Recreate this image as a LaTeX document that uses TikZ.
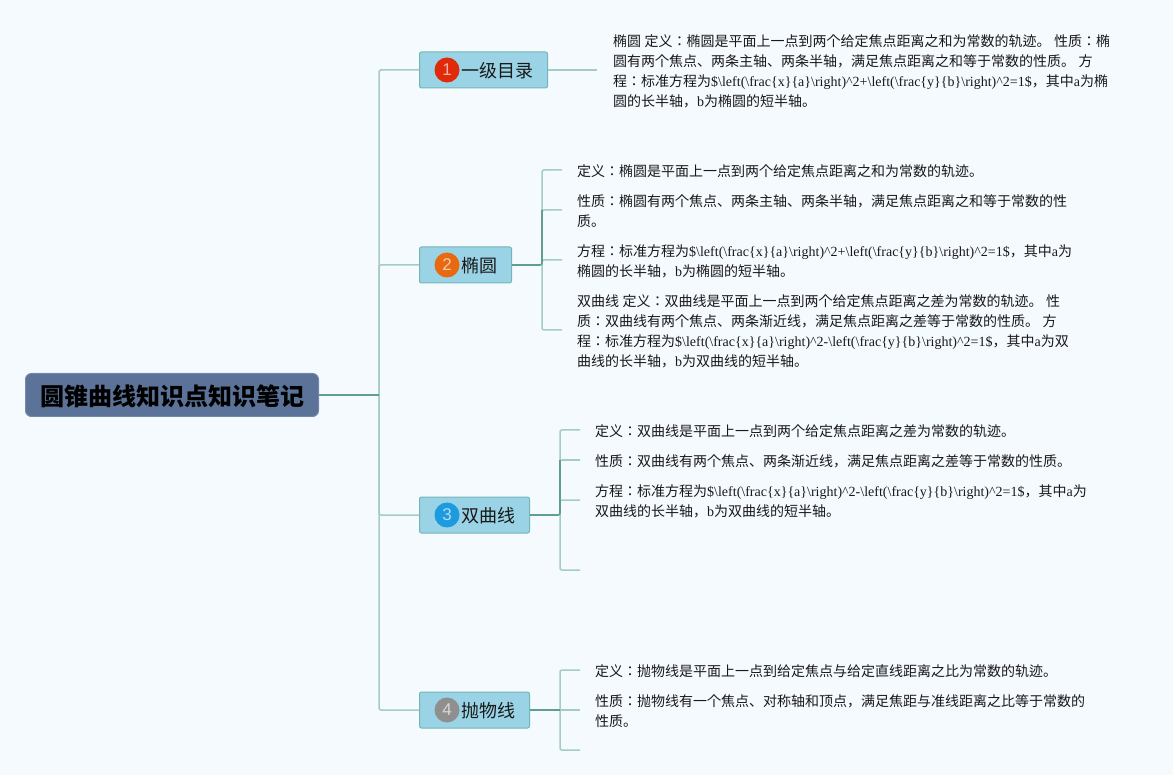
\documentclass[tikz,border=0pt]{standalone}
\usepackage{fontspec}
\setmainfont{Noto Sans CJK JP}
\newfontfamily\latfont{Liberation Serif}
\newfontfamily\digitfont{Liberation Sans}
\usepackage{xcolor}
\definecolor{pagebg}{HTML}{F5FAFF}
\definecolor{rootblue}{HTML}{5B7399}
\definecolor{topicblue}{HTML}{9AD3E6}
\definecolor{topicedge}{HTML}{74B6B4}
\definecolor{linelight}{HTML}{A3CCC5}
\definecolor{linedark}{HTML}{5F9E90}
\definecolor{badgered}{HTML}{E02A0A}
\definecolor{badgeorange}{HTML}{E8690F}
\definecolor{badgeblue}{HTML}{1E9BE0}
\definecolor{badgegrey}{HTML}{8F8F8F}
\newcommand{\lat}[1]{{\latfont #1}}
\newcommand{\frcx}{\textbackslash left(\textbackslash frac\{x\}\{a\}\textbackslash right)\textasciicircum 2}
\newcommand{\frcy}{\textbackslash left(\textbackslash frac\{y\}\{b\}\textbackslash right)\textasciicircum 2=1\$}
\newcommand{\eqplus}{\lat{\$\frcx+\frcy}}
\newcommand{\eqminus}{\lat{\$\frcx-\frcy}}

\begin{document}
\begin{tikzpicture}[x=1pt,y=-1pt,
  rootbox/.style={draw=rootblue!85, line width=1pt, fill=rootblue, rounded corners=6pt,
    minimum width=293pt, minimum height=43pt, inner sep=0pt,
    font=\fontsize{24}{28}\selectfont\bfseries, text=black},
  topicbox/.style={draw=topicedge, line width=1pt, fill=topicblue, rounded corners=2pt,
    minimum height=36pt, inner sep=0pt, anchor=west},
  badge/.style={circle, minimum size=25pt, inner sep=0pt, text=white, text opacity=0.65,
    font=\fontsize{17}{17}\selectfont\digitfont},
  topiclabel/.style={anchor=west, inner sep=0pt, text=black!90,
    font=\fontsize{18}{22}\selectfont},
  leaf/.style={anchor=west, align=left, inner ysep=0pt, inner xsep=15pt, text=black!90,
    font=\fontsize{14}{20}\selectfont},
  thinline/.style={draw=linelight, line width=1.5pt, rounded corners=2pt},
  mainline/.style={draw=linedark, line width=1.6pt, rounded corners=2pt},
  up/.style={yshift=1pt}
]
  \fill[pagebg] (0,0) rectangle (1173,775);

  % Root
  \node[rootbox, text depth=0pt] (root) at (172,395) {\hspace{1pt}圆锥曲线知识点知识笔记};
  \coordinate (trunk) at (379,395);

  % Topic boxes
  \node[topicbox, minimum width=128pt] (t1) at (419,70) {};
  \node[badge, fill=badgered] (b1) at (447,70) {1};
  \node[topiclabel] (n1) at (461,71) {一级目录};

  \node[topicbox, minimum width=92pt] (t2) at (419,265) {};
  \node[badge, fill=badgeorange] (b2) at (447,265) {2};
  \node[topiclabel] (n2) at (461,266) {椭圆};

  \node[topicbox, minimum width=110pt] (t3) at (419,515) {};
  \node[badge, fill=badgeblue] (b3) at (447,515) {3};
  \node[topiclabel] (n3) at (461,516) {双曲线};

  \node[topicbox, minimum width=110pt] (t4) at (419,710) {};
  \node[badge, fill=badgegrey] (b4) at (447,710) {4};
  \node[topiclabel] (n4) at (461,711) {抛物线};

  % Leaves of topic 1
  \node[leaf, inner xsep=16pt] (l11) at (597,71) {椭圆\lat{ }定义：椭圆是平面上一点到两个给定焦点距离之和为常数的轨迹。\lat{ }性质：椭\\
    圆有两个焦点、两条主轴、两条半轴，满足焦点距离之和等于常数的性质。\lat{ }方\\
    程：标准方程为\eqplus，其中\lat{a}为椭\\
    圆的长半轴，\lat{b}为椭圆的短半轴。};

  % Leaves of topic 2
  \node[leaf] (l21) at (562,171) {定义：椭圆是平面上一点到两个给定焦点距离之和为常数的轨迹。};
  \node[leaf] (l22) at (562,211) {性质：椭圆有两个焦点、两条主轴、两条半轴，满足焦点距离之和等于常数的性\\质。};
  \node[leaf] (l23) at (562,261) {方程：标准方程为\eqplus，其中\lat{a}为\\
    椭圆的长半轴，\lat{b}为椭圆的短半轴。};
  \node[leaf] (l24) at (562,331) {双曲线\lat{ }定义：双曲线是平面上一点到两个给定焦点距离之差为常数的轨迹。\lat{ }性\\
    质：双曲线有两个焦点、两条渐近线，满足焦点距离之差等于常数的性质。\lat{ }方\\
    程：标准方程为\eqminus，其中\lat{a}为双\\
    曲线的长半轴，\lat{b}为双曲线的短半轴。};

  % Leaves of topic 3
  \node[leaf] (l31) at (580,431) {定义：双曲线是平面上一点到两个给定焦点距离之差为常数的轨迹。};
  \node[leaf] (l32) at (580,461) {性质：双曲线有两个焦点、两条渐近线，满足焦点距离之差等于常数的性质。};
  \node[leaf] (l33) at (580,501) {方程：标准方程为\eqminus，其中\lat{a}为\\
    双曲线的长半轴，\lat{b}为双曲线的短半轴。};
  \coordinate (l34) at (580,570);

  % Leaves of topic 4
  \node[leaf] (l41) at (580,671) {定义：抛物线是平面上一点到给定焦点与给定直线距离之比为常数的轨迹。};
  \node[leaf] (l42) at (580,711) {性质：抛物线有一个焦点、对称轴和顶点，满足焦距与准线距离之比等于常数的\\性质。};
  \coordinate (l43) at (580,750);

  % Junctions
  \coordinate (j2) at (542,265);
  \coordinate (j3) at (560,515);
  \coordinate (j4) at (560,710);
  \coordinate (k2) at ([up]l22.west);
  \coordinate (k3) at ([up]l32.west);

  % Light connectors
  \draw[thinline] (trunk) |- (t1.west);
  \draw[thinline] (trunk) |- (t2.west);
  \draw[thinline] (trunk) |- (t3.west);
  \draw[thinline] (trunk) |- (t4.west);
  \draw[thinline] (t1.east) -- ([up]l11.west);
  \draw[thinline] (j2) |- ([up]l21.west);
  \draw[thinline] (j2) |- (k2);
  \draw[thinline] (j2) |- ([up]l23.west);
  \draw[thinline] (j2) |- ([up]l24.west);
  \draw[thinline] (j3) |- ([up]l31.west);
  \draw[thinline] (j3) |- (k3);
  \draw[thinline] (j3) |- ([up]l33.west);
  \draw[thinline] (j3) |- (l34);
  \draw[thinline] (j4) |- ([up]l41.west);
  \draw[thinline] (j4) -- ([up]l42.west);
  \draw[thinline] (j4) |- (l43);

  % Dark connectors
  \draw[mainline] (root.east) -- (trunk);
  \draw[mainline] (t2.east) -- (j2) -- (j2 |- k2);
  \draw[mainline] (t3.east) -- (j3) -- (j3 |- k3);
  \draw[mainline] (t4.east) -- (j4);
\end{tikzpicture}
\end{document}
